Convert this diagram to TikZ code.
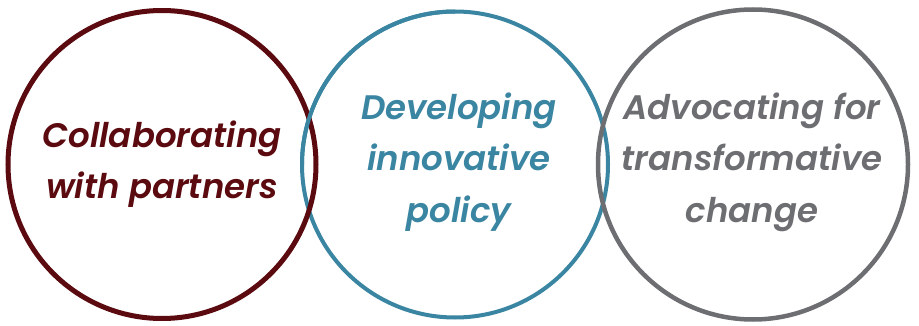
\documentclass[tikz,border=0pt]{standalone}
\usepackage{fontspec}
\setmainfont{Poppins}[BoldItalicFont={Poppins SemiBold Italic}]
\definecolor{cred}{HTML}{5B0A0F}
\definecolor{cteal}{HTML}{3A85A1}
\definecolor{cgray}{HTML}{6D6E72}
\begin{document}
\begin{tikzpicture}[x=1pt,y=-1pt,
  ring/.style={line width=#1},
  lbl/.style={align=center,inner sep=0pt,font=\fontsize{34}{51.5}\selectfont\bfseries\itshape}]
\useasboundingbox (0,0) rectangle (919,326);
\coordinate (c1) at (162,164.5);
\coordinate (c2) at (455,164.5);
\coordinate (c3) at (753,164.5);
\draw[cteal,line width=4pt] (c2) circle[radius=153];
\draw[cred,line width=5pt] (c1) circle[radius=154];
\draw[cteal,line width=4pt] (c2) ++(180:153) arc[start angle=180,end angle=270,radius=153];
\draw[cgray,line width=4.5pt] (c3) circle[radius=155];
\node[lbl,text=cred] (t1) at (162,164) {Collaborating\\with partners};
\node[lbl,text=cteal] (t2) at (459,162) {Developing\\innovative\\policy};
\node[lbl,text=cgray] (t3) at (752,162) {Advocating for\\transformative\\change};
\end{tikzpicture}
\end{document}
